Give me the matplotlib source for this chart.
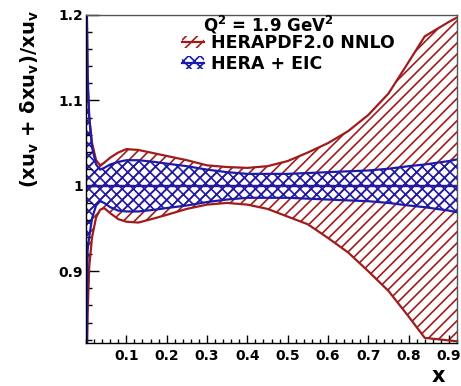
import matplotlib.pyplot as plt
from matplotlib.patches import Patch
from matplotlib.lines import Line2D
from matplotlib.ticker import MultipleLocator, FixedLocator
import numpy as np

# x grid shared by both bands
x_vals = [0.001, 0.004, 0.008, 0.015, 0.025, 0.035, 0.045, 0.06, 0.08, 0.1,
          0.13, 0.17, 0.2, 0.25, 0.3, 0.35, 0.4, 0.45, 0.5, 0.55,
          0.6, 0.65, 0.7, 0.75, 0.8, 0.84, 0.9, 0.92]

# HERAPDF2.0 NNLO band (relative)
hera_up = [1.25, 1.12, 1.08, 1.05, 1.03, 1.024, 1.027, 1.033, 1.039, 1.043,
           1.042, 1.038, 1.035, 1.030, 1.024, 1.022, 1.021, 1.023, 1.029, 1.039,
           1.050, 1.064, 1.083, 1.108, 1.145, 1.175, 1.192, 1.197]
hera_dn = [0.75, 0.85, 0.905, 0.94, 0.963, 0.972, 0.974, 0.968, 0.961, 0.958,
           0.957, 0.962, 0.966, 0.973, 0.978, 0.980, 0.978, 0.973, 0.964, 0.955,
           0.939, 0.922, 0.900, 0.877, 0.847, 0.822, 0.819, 0.818]

# HERA + EIC band
eic_up = [1.25, 1.13, 1.08, 1.045, 1.025, 1.019, 1.021, 1.025, 1.028, 1.030,
          1.030, 1.028, 1.026, 1.023, 1.019, 1.016, 1.014, 1.014, 1.014, 1.015,
          1.016, 1.017, 1.018, 1.020, 1.023, 1.025, 1.029, 1.031]
eic_dn = [0.75, 0.925, 0.94, 0.962, 0.977, 0.982, 0.980, 0.975, 0.971, 0.970,
          0.970, 0.972, 0.974, 0.977, 0.981, 0.984, 0.986, 0.986, 0.986, 0.985,
          0.984, 0.983, 0.982, 0.980, 0.977, 0.975, 0.971, 0.969]

labels = ['HERAPDF2.0 NNLO', 'HERA + EIC']
red = '#a01c1c'
blue = '#1c1ca8'

plt.rcParams['hatch.linewidth'] = 1.2

W, H = 461, 386
fig = plt.figure(figsize=(W / 100, H / 100), dpi=100)
ax = fig.add_axes([86 / W, 1 - 343 / H, (457 - 86) / W, (343 - 15) / H])

x = np.array(x_vals)
ones = np.ones_like(x)

# red band, single hatch
ax.fill_between(x, hera_dn, hera_up, facecolor='none', edgecolor=red,
                hatch='///', linewidth=0)
ax.plot(x, hera_up, color=red, lw=1.6)
ax.plot(x, hera_dn, color=red, lw=1.6)
ax.plot(x, ones, color=red, lw=1.6)

# blue band on top, cross hatch
ax.fill_between(x, eic_dn, eic_up, facecolor='none', edgecolor=blue,
                hatch='xxx', linewidth=0)
ax.plot(x, eic_up, color=blue, lw=1.6)
ax.plot(x, eic_dn, color=blue, lw=1.6)
ax.plot(x, ones, color=blue, lw=1.6)

ax.set_xlim(0, 0.92)
ax.set_ylim(0.816, 1.2)

ax.xaxis.set_major_locator(FixedLocator([0.1, 0.2, 0.3, 0.4, 0.5, 0.6, 0.7, 0.8, 0.9]))
ax.xaxis.set_minor_locator(MultipleLocator(0.02))
ax.yaxis.set_major_locator(FixedLocator([0.9, 1.0, 1.1, 1.2]))
ax.yaxis.set_minor_locator(MultipleLocator(0.02))
ax.set_xticklabels(['0.1', '0.2', '0.3', '0.4', '0.5', '0.6', '0.7', '0.8', '0.9'],
                   fontsize=10, fontweight='bold')
ax.set_yticklabels(['0.9', '1', '1.1', '1.2'], fontsize=10, fontweight='bold')
ax.tick_params(axis='both', which='both', direction='in', top=False, right=False, width=1)
ax.tick_params(axis='y', which='major', length=9, pad=2)
ax.tick_params(axis='y', which='minor', length=4.5)
ax.tick_params(axis='x', which='major', length=6, pad=4)
ax.tick_params(axis='x', which='minor', length=3)
for s in ax.spines.values():
    s.set_linewidth(1.0)
ax.spines['top'].set_color('#555555')
ax.spines['right'].set_color('#555555')

# axis titles, ROOT style (right / top aligned)
fig.text(438 / W, 1 - 376 / H, 'x', fontsize=15, fontweight='bold',
         ha='center', va='center')
fig.text(30 / W, 1 - 10 / H,
         r'(xu$_{\mathbf{v}}$ + δxu$_{\mathbf{v}}$)/xu$_{\mathbf{v}}$',
         fontsize=14, fontweight='bold', rotation=90, ha='center', va='top')

# legend
fig.text(203 / W, 1 - 25 / H, r'Q$^{\mathbf{2}}$ = 1.9 GeV$^{\mathbf{2}}$',
         fontsize=12, fontweight='bold', ha='left', va='center')
handles = [(Patch(facecolor='none', edgecolor=red, hatch='///', linewidth=0),
            Line2D([], [], color=red, lw=1.6)),
           (Patch(facecolor='none', edgecolor=blue, hatch='xxx', linewidth=0),
            Line2D([], [], color=blue, lw=1.6))]
ax.legend(handles, labels, loc='upper left', bbox_to_anchor=(182 / W, 1 - 34 / H),
          bbox_transform=fig.transFigure, frameon=False, borderpad=0,
          borderaxespad=0, handlelength=1.25, handletextpad=0.4, labelspacing=0.15,
          prop={'size': 12.5, 'weight': 'bold'})

fig.savefig('out.png', dpi=100)
